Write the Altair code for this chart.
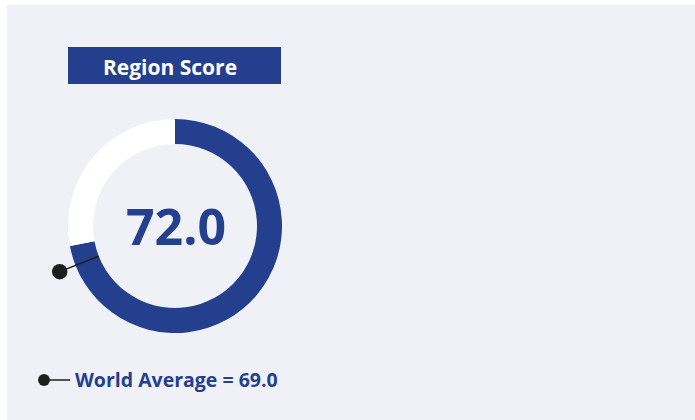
import altair as alt
import pandas as pd

# ---- data ----
segments = ["Region Score", "Remaining"]
seg_values = [72.0, 28.0]
score = 72.0
world_avg = 69.0
title_text = "Region Score"
legend_label = "World Average"

BLUE = "#243f8e"
PANEL = "#f0f1f7"
FONT = "Open Sans"

CX, CY = 168, 221
R_OUT, R_IN = 107, 82
R_DOT = 124

arc_df = pd.DataFrame({"seg": segments, "value": seg_values, "idx": [0, 1]})
one = pd.DataFrame({"score": [score], "avg": [world_avg], "title": [title_text],
                    "legend": [legend_label]})

base = alt.Chart(one)

title_box = base.mark_rect(color=BLUE).encode(
    x=alt.value(61), x2=alt.value(274), y=alt.value(42), y2=alt.value(79))
title_lbl = base.mark_text(color="white", font=FONT, fontWeight="bold", fontSize=21,
                           align="center", baseline="alphabetic").encode(
    x=alt.value(163), y=alt.value(70), text="title:N")

ring = alt.Chart(arc_df).mark_arc(radius=R_OUT, radius2=R_IN).encode(
    x=alt.value(CX), y=alt.value(CY),
    theta=alt.Theta("value:Q", stack=True, scale=alt.Scale(domain=[0, 100], range=[0, 6.283185307])),
    order=alt.Order("idx:Q"),
    color=alt.Color("seg:N", scale=alt.Scale(domain=segments, range=[BLUE, "white"]), legend=None),
)

center_lbl = base.mark_text(color=BLUE, font=FONT, fontWeight="bold", fontSize=50,
                            align="center", baseline="alphabetic").encode(
    x=alt.value(CX + 1), y=alt.value(240), text=alt.Text("score:Q", format=".1f"))

marker_base = base.transform_calculate(
    ang="2*PI*datum.avg/100",
).transform_calculate(
    xa=f"{CX} + {R_IN}*sin(datum.ang)", ya=f"{CY} - {R_IN}*cos(datum.ang)",
    xb=f"{CX} + {R_DOT}*sin(datum.ang)", yb=f"{CY} - {R_DOT}*cos(datum.ang)",
)
marker_line = marker_base.mark_rule(color="#1e1e1e", strokeWidth=1.5).encode(
    x=alt.X("xa:Q", scale=None), y=alt.Y("ya:Q", scale=None),
    x2="xb:Q", y2="yb:Q")
marker_dot = marker_base.mark_circle(color="#1e1e1e", opacity=1, size=240).encode(
    x=alt.X("xb:Q", scale=None), y=alt.Y("yb:Q", scale=None))

leg_line = base.mark_rule(color="#1e1e1e", strokeWidth=1.5).encode(
    x=alt.value(37), x2=alt.value(63), y=alt.value(375))
leg_dot = base.mark_circle(color="#1e1e1e", opacity=1, size=140).encode(
    x=alt.value(37), y=alt.value(375))
leg_text = base.transform_calculate(
    lab="datum.legend + ' = ' + format(datum.avg, '.1f')"
).mark_text(color=BLUE, font=FONT, fontWeight="bold", fontSize=19.5,
            align="left", baseline="alphabetic").encode(
    x=alt.value(68), y=alt.value(382), text="lab:N")

chart = alt.layer(
    title_box, title_lbl, ring, center_lbl, marker_line, marker_dot,
    leg_line, leg_dot, leg_text
).properties(
    width=688, height=415,
    padding={"left": 7, "top": 5, "right": 0, "bottom": 0},
    autosize=alt.AutoSizeParams(type="none"),
    background="white",
).configure_view(fill=PANEL, stroke=None)

chart.save("out.html", embed_options={"renderer": "svg", "actions": False})
